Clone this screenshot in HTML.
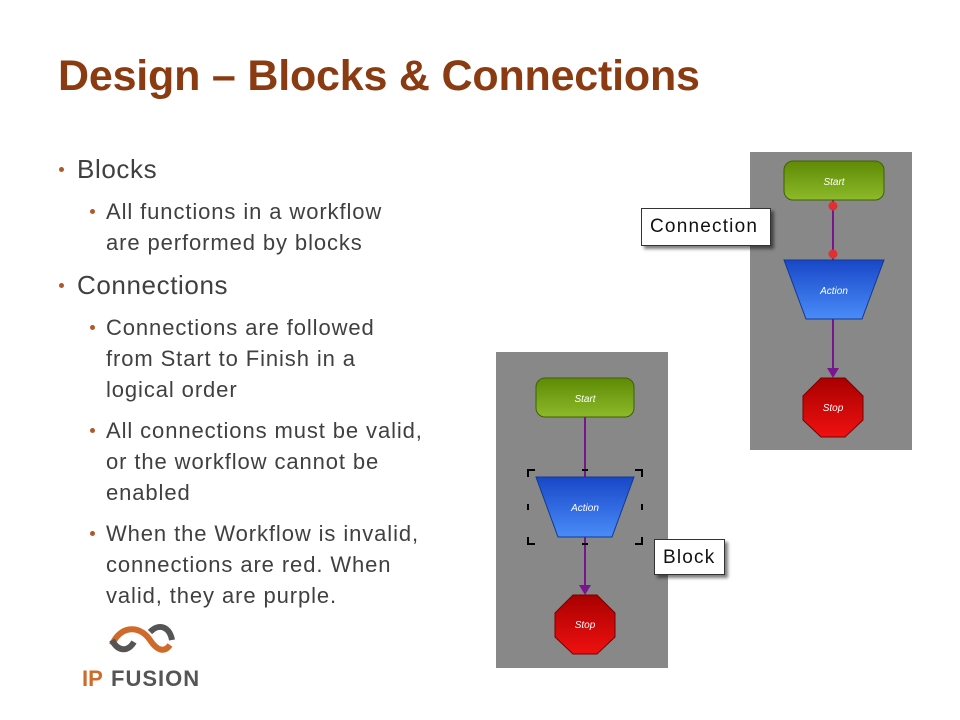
<!DOCTYPE html>
<html><head><meta charset="utf-8"><style>
body{margin:0;width:960px;height:720px;background:#fff;position:relative;overflow:hidden;font-family:"Liberation Sans",sans-serif}
.t{position:absolute;left:58px;top:52px;font-size:43px;font-weight:bold;color:#8a3b12;letter-spacing:-0.2px}
.b{position:absolute;color:#404040;white-space:nowrap}
.s{font-size:22px;line-height:31px;letter-spacing:0.9px}
.h{font-size:26px;letter-spacing:0.6px}
.d{position:absolute;width:5px;height:5px;border-radius:50%;background:#b0582a}
.lbl{position:absolute;background:#fff;border:1px solid #333;box-shadow:3px 3px 3px rgba(0,0,0,.5);font-size:19px;color:#111;box-sizing:border-box;padding-left:8px;line-height:36px;letter-spacing:1.2px}
</style></head><body>
<div class="t">Design – Blocks &amp; Connections</div>
<div class="d" style="left:59px;top:167px"></div><div class="b h" style="left:77px;top:154px">Blocks</div>
<div class="d" style="left:90px;top:209px"></div><div class="b s" style="left:106px;top:196px">All functions in a workflow<br>are performed by blocks</div>
<div class="d" style="left:59px;top:283px"></div><div class="b h" style="left:77px;top:270px">Connections</div>
<div class="d" style="left:90px;top:325px"></div><div class="b s" style="left:106px;top:312px">Connections are followed<br>from Start to Finish in a<br>logical order</div>
<div class="d" style="left:90px;top:428px"></div><div class="b s" style="left:106px;top:415px">All connections must be valid,<br>or the workflow cannot be<br>enabled</div>
<div class="d" style="left:90px;top:531px"></div><div class="b s" style="left:106px;top:518px">When the Workflow is invalid,<br>connections are red. When<br>valid, they are purple.</div>
<svg style="position:absolute;left:0;top:0" width="960" height="720">
<defs>
<linearGradient id="g" x1="0" y1="0" x2="0" y2="1"><stop offset="0" stop-color="#5e8a05"/><stop offset="1" stop-color="#8cba2a"/></linearGradient>
<linearGradient id="bl" x1="0" y1="0" x2="0" y2="1"><stop offset="0" stop-color="#1847c8"/><stop offset="1" stop-color="#4a8cf8"/></linearGradient>
<linearGradient id="r" x1="0" y1="0" x2="0" y2="1"><stop offset="0" stop-color="#a80000"/><stop offset="1" stop-color="#f01010"/></linearGradient>
</defs>
<path d="M112,645 C120,625 140,625 150,640 C158,652 165,652 170,645" stroke="#d06a2a" stroke-width="6" fill="none"/>
<path d="M112,640 C118,652 128,652 134,642 M150,632 C160,622 170,628 172,640" stroke="#555" stroke-width="6" fill="none"/>
<text x="82" y="686" font-size="22" font-weight="bold" fill="#d06a2a" font-family="Liberation Sans">IP</text>
<text x="111" y="686" font-size="22" font-weight="bold" fill="#555" font-family="Liberation Sans" letter-spacing="1">FUSION</text>
<rect x="750" y="152" width="162" height="298" fill="#888"/>
<line x1="833" y1="200" x2="833" y2="370" stroke="#7a1590" stroke-width="2"/>
<path d="M827,368 L839,368 L833,378Z" fill="#7a1590"/>
<rect x="784" y="161" width="100" height="39" rx="9" fill="url(#g)" stroke="#3f6005"/>
<text x="834" y="185" font-size="10" font-style="italic" fill="#fff" text-anchor="middle" font-family="Liberation Sans">Start</text>
<circle cx="833" cy="206" r="4.5" fill="#e03030"/><circle cx="833" cy="254" r="4.5" fill="#e03030"/>
<path d="M784,260 L884,260 L862,319 L806,319Z" fill="url(#bl)" stroke="#123a90"/>
<text x="834" y="294" font-size="10" font-style="italic" fill="#fff" text-anchor="middle" font-family="Liberation Sans">Action</text>
<path d="M821,378 L845,378 L863,396 L863,420 L845,437 L821,437 L803,420 L803,396Z" fill="url(#r)" stroke="#700"/>
<text x="833" y="411" font-size="10" font-style="italic" fill="#fff" text-anchor="middle" font-family="Liberation Sans">Stop</text>
<rect x="496" y="352" width="172" height="316" fill="#888"/>
<line x1="585" y1="417" x2="585" y2="585" stroke="#7a1590" stroke-width="2"/>
<path d="M579,585 L591,585 L585,595Z" fill="#7a1590"/>
<rect x="536" y="378" width="98" height="39" rx="9" fill="url(#g)" stroke="#3f6005"/>
<text x="585" y="402" font-size="10" font-style="italic" fill="#fff" text-anchor="middle" font-family="Liberation Sans">Start</text>
<path d="M536,477 L634,477 L612,537 L558,537Z" fill="url(#bl)" stroke="#123a90"/>
<text x="585" y="511" font-size="10" font-style="italic" fill="#fff" text-anchor="middle" font-family="Liberation Sans">Action</text>
<path d="M573,595 L597,595 L615,613 L615,637 L597,654 L573,654 L555,637 L555,613Z" fill="url(#r)" stroke="#700"/>
<text x="585" y="628" font-size="10" font-style="italic" fill="#fff" text-anchor="middle" font-family="Liberation Sans">Stop</text>
<g stroke="#000" stroke-width="2" fill="none">
<path d="M528,477 V470 H535"/><path d="M635,470 H642 V477"/><path d="M528,537 V544 H535"/><path d="M635,544 H642 V537"/>
<path d="M582,470 H588"/><path d="M582,544 H588"/><path d="M528,504 V510"/><path d="M642,504 V510"/>
</g>
</svg>
<div class="lbl" style="left:641px;top:208px;width:130px;height:38px">Connection</div>
<div class="lbl" style="left:654px;top:539px;width:71px;height:36px">Block</div>
</body></html>
